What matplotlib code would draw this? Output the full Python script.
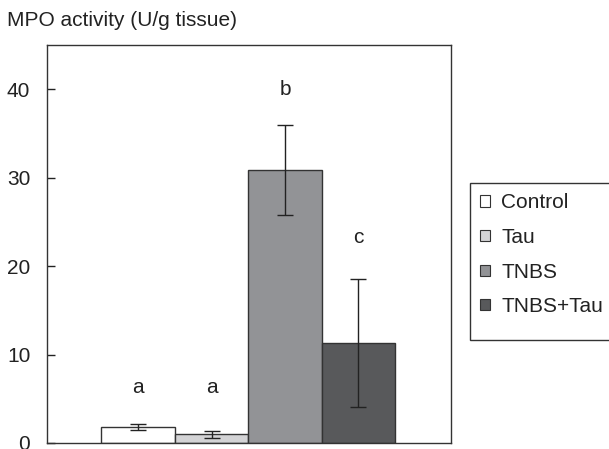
import matplotlib
matplotlib.use('Agg')
import matplotlib.pyplot as plt
from matplotlib.patches import Patch, Rectangle

plt.rcParams['font.family'] = ['Liberation Sans', 'DejaVu Sans']

groups = ['Control', 'Tau', 'TNBS', 'TNBS+Tau']
means = [1.8, 1.0, 30.9, 11.3]
errors = [0.3, 0.4, 5.1, 7.2]
letters = ['a', 'a', 'b', 'c']
letter_y = [6.3, 6.3, 40.0, 23.2]
colors = ['#ffffff', '#d3d3d5', '#929396', '#58595b']
yticks = [0, 10, 20, 30, 40]

fs = 15
W, H = 609, 449

fig = plt.figure(figsize=(6.09, 4.49), dpi=100)
ax = fig.add_axes([47 / W, 1 - 443 / H, 404 / W, 398 / H])

x = list(range(len(groups)))
ax.bar(x, means, width=1.0, color=colors, edgecolor='#333333', linewidth=1.0,
       yerr=errors, capsize=5.5, error_kw=dict(ecolor='#222222', elinewidth=1.0, capthick=1.0))

for xi, lab, ly in zip(x, letters, letter_y):
    ax.text(xi, ly, lab, ha='center', va='center', fontsize=fs, color='#222222')

ax.set_xlim(-1.24, 4.26)
ax.set_ylim(0, 45)
ax.set_xticks([])
ax.set_yticks(yticks)
ax.tick_params(axis='y', direction='in', length=6, width=1, labelsize=fs,
               colors='#222222', pad=12)
for s in ax.spines.values():
    s.set_color('#333333')
    s.set_linewidth(1.0)

fig.text(7 / W, 1 - 20 / H, 'MPO activity (U/g tissue)', ha='left', va='center',
         fontsize=fs, color='#222222')

# legend box runs off the right edge, with extra room below the last entry
fig.patches.append(Rectangle((470 / W, 1 - 340 / H), 160 / W, 157 / H,
                             transform=fig.transFigure, facecolor='white',
                             edgecolor='#333333', linewidth=1.0, zorder=0))
handles = [Patch(facecolor=c, edgecolor='#333333', linewidth=0.8) for c in colors]
leg = fig.legend(handles, groups, loc='upper left',
                 bbox_to_anchor=(470 / W, 1 - 183 / H),
                 frameon=False, fontsize=fs,
                 handlelength=0.45, handleheight=0.45, handletextpad=0.55,
                 labelspacing=0.75, borderpad=0.5, borderaxespad=0)
for t in leg.get_texts():
    t.set_color('#222222')

fig.savefig('out.png', dpi=100)
